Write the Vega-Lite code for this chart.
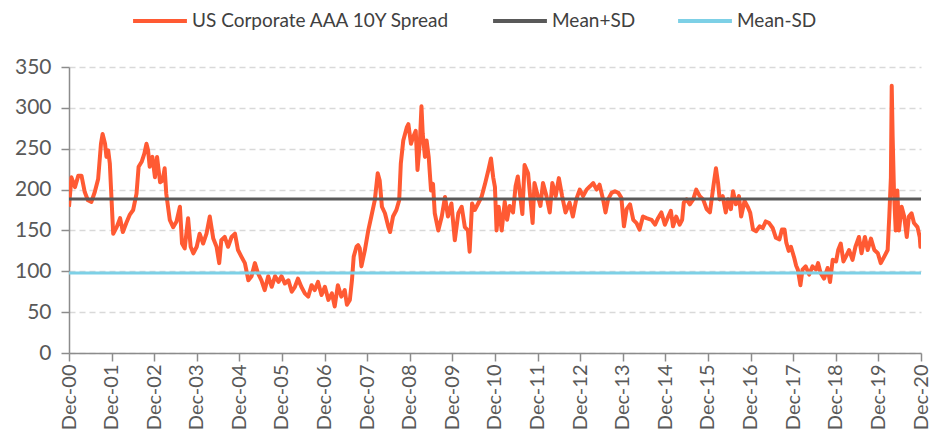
{
  "$schema": "https://vega.github.io/schema/vega-lite/v6.json",
  "width": 852,
  "height": 286,
  "autosize": {"type": "none"},
  "padding": {"left": 69, "top": 67, "right": 22, "bottom": 90},
  "background": "white",
  "config": {
    "view": {"stroke": null},
    "font": "Lato",
    "axis": {
      "labelFont": "Lato",
      "labelColor": "#595959",
      "domainColor": "#8c8c8c",
      "domainWidth": 1.5,
      "tickColor": "#8c8c8c",
      "tickWidth": 1.5,
      "tickSize": 8,
      "title": null
    },
    "legend": {"labelFont": "Lato"}
  },
  "datasets": {
    "spread": [
      {"d":"2000-12-01","v":179},{"d":"2000-12-22","v":215},{"d":"2001-01-21","v":203},{"d":"2001-02-19","v":217},{"d":"2001-03-18","v":217},{"d":"2001-04-15","v":197},{"d":"2001-05-12","v":187},{"d":"2001-06-11","v":185},{"d":"2001-07-10","v":197},{"d":"2001-08-08","v":213},{"d":"2001-09-01","v":256},{"d":"2001-09-15","v":268},{"d":"2001-10-06","v":256},{"d":"2001-10-18","v":240},{"d":"2001-11-02","v":248},{"d":"2001-11-16","v":232},{"d":"2001-12-01","v":187},{"d":"2001-12-15","v":146},
      {"d":"2002-01-14","v":154},{"d":"2002-02-12","v":165},{"d":"2002-03-08","v":148},{"d":"2002-04-06","v":159},{"d":"2002-05-05","v":169},{"d":"2002-06-04","v":175},{"d":"2002-07-03","v":195},{"d":"2002-07-21","v":228},{"d":"2002-08-16","v":234},{"d":"2002-09-08","v":244},{"d":"2002-09-26","v":256},{"d":"2002-10-10","v":248},{"d":"2002-10-24","v":228},{"d":"2002-11-16","v":240},{"d":"2002-12-08","v":215},{"d":"2002-12-26","v":240},
      {"d":"2003-01-21","v":209},{"d":"2003-02-12","v":211},{"d":"2003-03-01","v":226},{"d":"2003-03-15","v":195},{"d":"2003-04-14","v":163},{"d":"2003-05-13","v":154},{"d":"2003-06-11","v":161},{"d":"2003-07-10","v":179},{"d":"2003-07-28","v":134},{"d":"2003-08-20","v":128},{"d":"2003-09-18","v":165},{"d":"2003-10-10","v":130},{"d":"2003-11-02","v":122},{"d":"2003-12-01","v":130},{"d":"2003-12-26","v":146},
      {"d":"2004-01-25","v":134},{"d":"2004-02-23","v":146},{"d":"2004-03-22","v":167},{"d":"2004-04-21","v":140},{"d":"2004-05-19","v":130},{"d":"2004-06-11","v":110},{"d":"2004-06-29","v":138},{"d":"2004-07-28","v":142},{"d":"2004-08-26","v":130},{"d":"2004-09-25","v":142},{"d":"2004-10-24","v":146},{"d":"2004-11-19","v":126},{"d":"2004-12-18","v":118},
      {"d":"2005-01-17","v":110},{"d":"2005-02-16","v":89},{"d":"2005-03-15","v":94},{"d":"2005-04-13","v":110},{"d":"2005-05-08","v":98},{"d":"2005-06-08","v":89},{"d":"2005-07-06","v":77},{"d":"2005-08-05","v":94},{"d":"2005-09-04","v":81},{"d":"2005-10-03","v":94},{"d":"2005-11-02","v":87},{"d":"2005-11-27","v":94},{"d":"2005-12-26","v":85},
      {"d":"2006-01-25","v":89},{"d":"2006-02-23","v":75},{"d":"2006-03-22","v":81},{"d":"2006-04-17","v":91},{"d":"2006-05-16","v":81},{"d":"2006-06-15","v":73},{"d":"2006-07-14","v":69},{"d":"2006-08-12","v":83},{"d":"2006-09-08","v":77},{"d":"2006-10-06","v":87},{"d":"2006-11-05","v":71},{"d":"2006-12-04","v":81},
      {"d":"2007-01-03","v":65},{"d":"2007-02-02","v":73},{"d":"2007-02-26","v":57},{"d":"2007-03-25","v":83},{"d":"2007-04-24","v":69},{"d":"2007-05-23","v":77},{"d":"2007-06-11","v":59},{"d":"2007-07-06","v":65},{"d":"2007-07-24","v":89},{"d":"2007-08-08","v":118},{"d":"2007-09-01","v":130},{"d":"2007-09-15","v":132},{"d":"2007-09-29","v":128},{"d":"2007-10-13","v":106},{"d":"2007-11-12","v":126},{"d":"2007-12-11","v":150},
      {"d":"2008-01-06","v":167},{"d":"2008-02-05","v":187},{"d":"2008-03-01","v":220},{"d":"2008-03-18","v":211},{"d":"2008-04-06","v":179},{"d":"2008-05-02","v":171},{"d":"2008-06-01","v":154},{"d":"2008-06-15","v":148},{"d":"2008-07-10","v":167},{"d":"2008-08-08","v":175},{"d":"2008-09-01","v":187},{"d":"2008-09-15","v":232},{"d":"2008-10-06","v":260},{"d":"2008-11-05","v":276},{"d":"2008-11-19","v":280},{"d":"2008-12-11","v":256},{"d":"2008-12-29","v":264},
      {"d":"2009-01-21","v":272},{"d":"2009-02-05","v":224},{"d":"2009-02-26","v":260},{"d":"2009-03-11","v":302},{"d":"2009-03-22","v":268},{"d":"2009-04-10","v":240},{"d":"2009-04-24","v":260},{"d":"2009-05-12","v":240},{"d":"2009-06-01","v":199},{"d":"2009-06-18","v":207},{"d":"2009-07-03","v":171},{"d":"2009-08-02","v":150},{"d":"2009-09-01","v":167},{"d":"2009-09-29","v":191},{"d":"2009-10-24","v":167},{"d":"2009-11-23","v":183},{"d":"2009-12-22","v":138},
      {"d":"2010-01-21","v":171},{"d":"2010-02-19","v":179},{"d":"2010-03-18","v":154},{"d":"2010-04-13","v":150},{"d":"2010-04-28","v":124},{"d":"2010-05-19","v":183},{"d":"2010-06-11","v":175},{"d":"2010-07-10","v":183},{"d":"2010-08-08","v":191},{"d":"2010-09-07","v":207},{"d":"2010-10-06","v":224},{"d":"2010-10-28","v":238},{"d":"2010-11-16","v":215},{"d":"2010-12-01","v":203},{"d":"2010-12-15","v":150},
      {"d":"2011-01-02","v":179},{"d":"2011-01-28","v":150},{"d":"2011-02-23","v":185},{"d":"2011-03-15","v":163},{"d":"2011-04-06","v":180},{"d":"2011-05-05","v":172},{"d":"2011-05-27","v":204},{"d":"2011-06-15","v":216},{"d":"2011-07-06","v":192},{"d":"2011-07-24","v":170},{"d":"2011-08-12","v":230},{"d":"2011-09-11","v":220},{"d":"2011-09-29","v":192},{"d":"2011-10-20","v":159},{"d":"2011-11-05","v":208},{"d":"2011-12-04","v":192},{"d":"2011-12-26","v":180},
      {"d":"2012-01-17","v":208},{"d":"2012-02-16","v":192},{"d":"2012-03-15","v":172},{"d":"2012-04-06","v":208},{"d":"2012-05-05","v":192},{"d":"2012-06-01","v":214},{"d":"2012-06-29","v":192},{"d":"2012-07-28","v":172},{"d":"2012-09-01","v":184},{"d":"2012-09-29","v":167},{"d":"2012-10-28","v":188},{"d":"2012-11-27","v":200},{"d":"2012-12-26","v":192},
      {"d":"2013-01-25","v":200},{"d":"2013-02-23","v":204},{"d":"2013-03-22","v":208},{"d":"2013-04-21","v":200},{"d":"2013-05-16","v":206},{"d":"2013-06-15","v":188},{"d":"2013-07-06","v":172},{"d":"2013-07-28","v":188},{"d":"2013-08-27","v":196},{"d":"2013-09-25","v":198},{"d":"2013-10-24","v":196},{"d":"2013-11-19","v":190},{"d":"2013-12-11","v":155},
      {"d":"2014-01-03","v":176},{"d":"2014-02-01","v":182},{"d":"2014-03-01","v":163},{"d":"2014-03-29","v":159},{"d":"2014-04-24","v":151},{"d":"2014-05-23","v":167},{"d":"2014-06-22","v":165},{"d":"2014-08-05","v":163},{"d":"2014-09-04","v":157},{"d":"2014-09-29","v":165},{"d":"2014-10-28","v":172},{"d":"2014-11-27","v":157},{"d":"2014-12-26","v":167},
      {"d":"2015-01-17","v":174},{"d":"2015-02-05","v":155},{"d":"2015-03-04","v":167},{"d":"2015-04-03","v":157},{"d":"2015-04-24","v":163},{"d":"2015-05-08","v":184},{"d":"2015-06-01","v":188},{"d":"2015-06-29","v":182},{"d":"2015-07-28","v":188},{"d":"2015-08-23","v":200},{"d":"2015-09-22","v":192},{"d":"2015-10-21","v":188},{"d":"2015-11-20","v":176},{"d":"2015-12-18","v":172},
      {"d":"2016-01-17","v":204},{"d":"2016-02-08","v":226},{"d":"2016-02-26","v":208},{"d":"2016-03-11","v":188},{"d":"2016-04-06","v":192},{"d":"2016-05-02","v":172},{"d":"2016-05-23","v":188},{"d":"2016-06-15","v":176},{"d":"2016-07-03","v":198},{"d":"2016-07-28","v":182},{"d":"2016-08-23","v":192},{"d":"2016-09-11","v":167},{"d":"2016-10-10","v":186},{"d":"2016-11-09","v":178},{"d":"2016-11-27","v":172},{"d":"2016-12-22","v":151},
      {"d":"2017-01-17","v":149},{"d":"2017-02-16","v":155},{"d":"2017-03-15","v":153},{"d":"2017-04-10","v":161},{"d":"2017-05-09","v":159},{"d":"2017-06-08","v":153},{"d":"2017-07-06","v":141},{"d":"2017-08-05","v":139},{"d":"2017-08-27","v":151},{"d":"2017-09-18","v":151},{"d":"2017-10-03","v":135},{"d":"2017-10-24","v":125},{"d":"2017-11-12","v":130},{"d":"2017-12-11","v":116},{"d":"2017-12-26","v":107},
      {"d":"2018-01-10","v":102},{"d":"2018-02-01","v":83},{"d":"2018-02-19","v":102},{"d":"2018-03-18","v":106},{"d":"2018-04-17","v":96},{"d":"2018-05-16","v":106},{"d":"2018-06-15","v":102},{"d":"2018-07-03","v":110},{"d":"2018-07-24","v":98},{"d":"2018-08-23","v":91},{"d":"2018-09-22","v":104},{"d":"2018-10-13","v":87},{"d":"2018-11-05","v":114},{"d":"2018-12-04","v":112},{"d":"2018-12-22","v":126},
      {"d":"2019-01-13","v":134},{"d":"2019-02-05","v":112},{"d":"2019-02-26","v":118},{"d":"2019-03-25","v":126},{"d":"2019-04-24","v":114},{"d":"2019-05-19","v":130},{"d":"2019-06-18","v":142},{"d":"2019-07-10","v":122},{"d":"2019-08-08","v":142},{"d":"2019-09-01","v":126},{"d":"2019-09-29","v":140},{"d":"2019-10-28","v":126},{"d":"2019-11-27","v":122},{"d":"2019-12-22","v":110},
      {"d":"2020-01-21","v":118},{"d":"2020-02-19","v":126},{"d":"2020-03-04","v":167},{"d":"2020-03-18","v":215},{"d":"2020-03-25","v":327},{"d":"2020-04-02","v":264},{"d":"2020-04-13","v":199},{"d":"2020-04-28","v":150},{"d":"2020-05-12","v":199},{"d":"2020-05-26","v":150},{"d":"2020-06-18","v":179},{"d":"2020-07-10","v":167},{"d":"2020-08-01","v":142},{"d":"2020-08-19","v":167},{"d":"2020-09-11","v":171},{"d":"2020-10-02","v":159},{"d":"2020-11-01","v":154},{"d":"2020-11-20","v":142},{"d":"2020-11-26","v":130},{"d":"2020-12-01","v":136}
    ],
    "means": [
      {"s":"Mean+SD","d":"2000-12-01","v":188.5},{"s":"Mean+SD","d":"2020-12-01","v":188.5},
      {"s":"Mean-SD","d":"2000-12-01","v":98},{"s":"Mean-SD","d":"2020-12-01","v":98}
    ]
  },
  "encoding": {
    "x": {
      "field": "d", "type": "temporal",
      "scale": {"type": "utc", "domain": [{"year":2000,"month":12,"date":1,"utc":true},{"year":2020,"month":12,"date":1,"utc":true}]},
      "axis": {
        "values": [
          {"year":2000,"month":12,"date":1,"utc":true},{"year":2001,"month":12,"date":1,"utc":true},{"year":2002,"month":12,"date":1,"utc":true},{"year":2003,"month":12,"date":1,"utc":true},{"year":2004,"month":12,"date":1,"utc":true},{"year":2005,"month":12,"date":1,"utc":true},{"year":2006,"month":12,"date":1,"utc":true},{"year":2007,"month":12,"date":1,"utc":true},{"year":2008,"month":12,"date":1,"utc":true},{"year":2009,"month":12,"date":1,"utc":true},{"year":2010,"month":12,"date":1,"utc":true},{"year":2011,"month":12,"date":1,"utc":true},{"year":2012,"month":12,"date":1,"utc":true},{"year":2013,"month":12,"date":1,"utc":true},{"year":2014,"month":12,"date":1,"utc":true},{"year":2015,"month":12,"date":1,"utc":true},{"year":2016,"month":12,"date":1,"utc":true},{"year":2017,"month":12,"date":1,"utc":true},{"year":2018,"month":12,"date":1,"utc":true},{"year":2019,"month":12,"date":1,"utc":true},{"year":2020,"month":12,"date":1,"utc":true}
        ],
        "labelExpr": "utcFormat(datum.value, '%b-%y')",
        "labelAngle": -90, "labelAlign": "right", "labelBaseline": "middle",
        "labelFontSize": 20, "labelPadding": 3,
        "grid": false, "labelOverlap": false, "labelFlush": false, "title": null
      }
    },
    "y": {
      "field": "v", "type": "quantitative",
      "scale": {"domain": [0, 350], "nice": false},
      "axis": {
        "values": [0, 50, 100, 150, 200, 250, 300, 350],
        "labelFontSize": 21, "labelPadding": 10,
        "grid": true, "gridColor": "#d9d9d9", "gridDash": [6, 4], "gridWidth": 1.5,
        "title": null
      }
    }
  },
  "layer": [
    {
      "data": {"name": "spread"},
      "mark": {"type": "line", "strokeWidth": 4, "strokeJoin": "round", "clip": true},
      "encoding": {
        "color": {
          "datum": "US Corporate AAA 10Y Spread",
          "type": "nominal",
          "scale": {"domain": ["US Corporate AAA 10Y Spread", "Mean+SD", "Mean-SD"], "range": ["#FF5A33", "#595959", "#7DD0E6"]},
          "legend": {"orient": "none", "legendX": 62, "legendY": -75, "direction": "horizontal", "title": null, "symbolType": "stroke", "symbolSize": 2900, "symbolStrokeWidth": 4, "labelFontSize": 19, "labelColor": "#404040", "labelLimit": 500, "columnPadding": 34, "labelOffset": 3}
        }
      }
    },
    {
      "data": {"name": "means"},
      "mark": {"type": "line", "strokeWidth": 3},
      "encoding": {
        "color": {
          "field": "s", "type": "nominal",
          "scale": {"domain": ["US Corporate AAA 10Y Spread", "Mean+SD", "Mean-SD"], "range": ["#FF5A33", "#595959", "#7DD0E6"]},
          "legend": {"orient": "none", "legendX": 62, "legendY": -75, "direction": "horizontal", "title": null, "symbolType": "stroke", "symbolSize": 2900, "symbolStrokeWidth": 4, "labelFontSize": 19, "labelColor": "#404040", "labelLimit": 500, "columnPadding": 34, "labelOffset": 3}
        }
      }
    }
  ]
}
